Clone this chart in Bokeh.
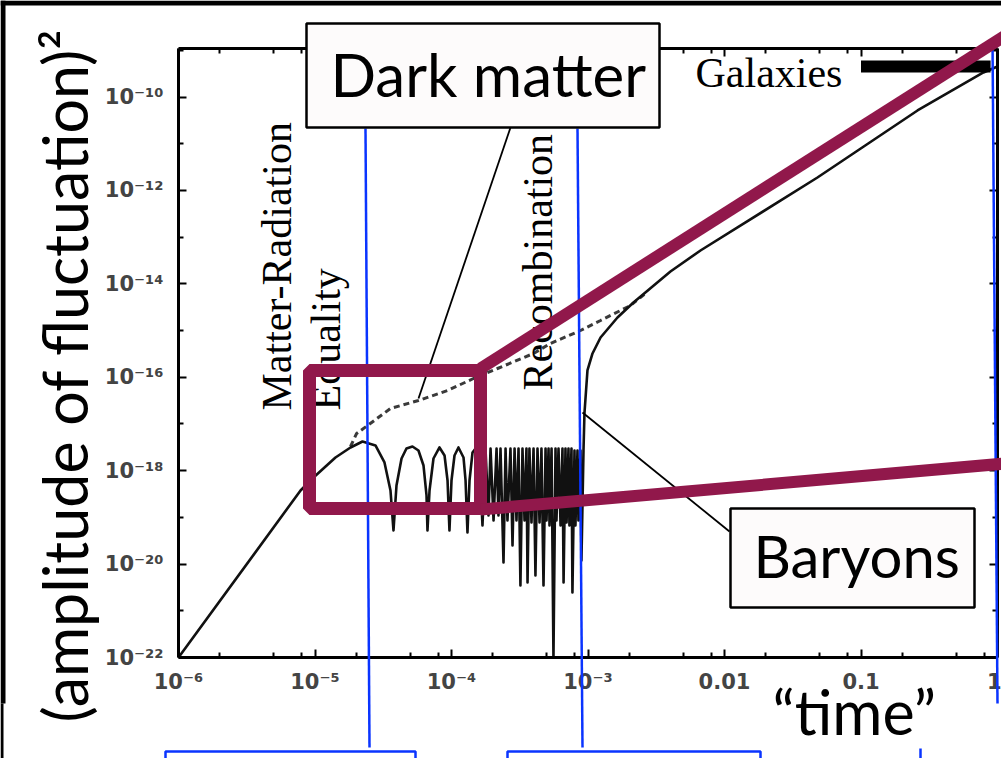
import math
from bokeh.plotting import figure
from bokeh.models import Range1d, FixedTicker, LogAxis, Label, Arrow, BoxAnnotation
from bokeh.embed import file_html
from bokeh.resources import INLINE

# ---------------- data (log10 of time, log10 of amplitude^2)
baryon_log_t = [
    -6.000, -5.106, -5.011, -4.850, -4.740, -4.652,
    -4.557, -4.491, -4.447, -4.425,
    -4.403, -4.366, -4.330, -4.286, -4.242, -4.205, -4.183, -4.176,
    -4.161, -4.132, -4.088, -4.051, -4.029, -4.015,
    -4.000, -3.978, -3.949, -3.912, -3.897, -3.883,
    -3.868, -3.846, -3.824, -3.795, -3.773,
    -3.751, -3.729, -3.714, -3.692, -3.670, -3.656, -3.641, -3.619,
    -3.604, -3.590, -3.568, -3.553, -3.538, -3.524, -3.509, -3.495,
    -3.480, -3.465, -3.451, -3.443, -3.429, -3.414, -3.399, -3.385,
    -3.370, -3.355, -3.341, -3.326, -3.311, -3.304, -3.289, -3.282,
    -3.267, -3.253, -3.238, -3.231, -3.216, -3.201, -3.187, -3.179,
    -3.165, -3.157, -3.143, -3.136, -3.121, -3.114, -3.099, -3.092,
    -3.077, -3.070, -3.055, -3.048, -3.033,
    -3.026, -3.004, -2.967, -2.908, -2.784, -2.667, -2.396, -2.176,
    -1.319, -0.586, -0.103, 0.000,
]
baryon_log_amp = [
    -22.000, -18.424, -18.146, -17.717, -17.503, -17.375,
    -17.460, -17.824, -18.424, -19.281,
    -18.317, -17.739, -17.525, -17.482, -17.567, -17.889, -18.531, -19.281,
    -18.424, -17.739, -17.503, -17.675, -18.210, -19.281,
    -18.210, -17.675, -17.503, -17.717, -18.210, -19.323,
    -18.210, -17.610, -17.525, -17.782, -19.173,
    -17.525, -18.959, -17.525, -19.066, -17.525, -18.959, -17.525, -19.966,
    -17.525, -19.066, -17.525, -19.602, -17.525, -19.066, -17.525, -20.458,
    -17.525, -19.066, -17.525, -20.394, -17.525, -19.109, -17.525, -20.244,
    -17.525, -19.109, -17.525, -20.458, -17.525, -19.066, -17.525, -19.173,
    -17.525, -22.000, -17.525, -19.066, -17.525, -19.173, -17.525, -20.394,
    -17.525, -19.109, -17.525, -19.173, -17.525, -20.608, -17.567, -19.173,
    -17.567, -19.066, -17.567, -19.923, -17.567,
    -16.775, -15.854, -15.490, -15.148, -14.720, -14.398, -13.735, -13.285,
    -11.722, -10.287, -9.473, -9.345,
]
dm_log_t = [-4.740, -4.695, -4.615, -4.447, -4.242, -4.029, -3.839, -3.663,
            -3.399, -3.275, -3.055, -2.908, -2.689, -2.579]
dm_log_amp = [-17.482, -17.203, -17.032, -16.668, -16.497, -16.283, -16.026, -15.812,
              -15.490, -15.276, -14.998, -14.784, -14.463, -14.206]
galaxies_t = [0.1, 0.89]
galaxies_amp = [4.5e-10, 4.5e-10]

x_ticks = [1e-6, 1e-5, 1e-4, 1e-3, 1e-2, 1e-1, 1.0]
x_tick_labels = ["10⁻⁶", "10⁻⁵", "10⁻⁴", "10⁻³", "0.01", "0.1", "1"]
x_minor_mult = [2, 5, 8]
y_ticks = [1e-22, 1e-20, 1e-18, 1e-16, 1e-14, 1e-12, 1e-10]
y_tick_labels = ["10⁻²²", "10⁻²⁰", "10⁻¹⁸", "10⁻¹⁶", "10⁻¹⁴", "10⁻¹²", "10⁻¹⁰"]
y_minor_ticks = [1e-21, 1e-19, 1e-17, 1e-15, 1e-13, 1e-11, 1e-9]

x_minor_ticks = [m * d for d in x_ticks[:-1] for m in x_minor_mult]

# ---------------- layout: frame = whole canvas, plot box placed with fixed-location axes
W, H = 1001, 758
BOX_L, BOX_R, BOX_T, BOX_B = 178, 997, 48, 657          # pixel edges of the plot box
LX0, LX1 = -6.0, 0.0                                     # log10 x extent of the box
LY0, LY1 = -22.0, -8.96                                  # log10 y extent of the box
ppx = (BOX_R - BOX_L) / (LX1 - LX0)
ppy = (BOX_B - BOX_T) / (LY1 - LY0)
x_range = Range1d(10 ** (LX0 - BOX_L / ppx), 10 ** (LX1 + (W - BOX_R) / ppx))
y_range = Range1d(10 ** (LY0 - (H - BOX_B) / ppy), 10 ** (LY1 + BOX_T / ppy))

p = figure(width=W, height=H, x_axis_type="log", y_axis_type="log",
           x_range=x_range, y_range=y_range,
           output_backend="svg", toolbar_location=None)
p.min_border = 0
p.min_border_left = 0
p.min_border_right = 0
p.min_border_top = 0
p.min_border_bottom = 0
p.background_fill_color = "white"
p.border_fill_color = "white"
p.outline_line_color = None
p.xgrid.grid_line_color = None
p.ygrid.grid_line_color = None

TICK_FONT = "DejaVu Sans"
x_bounds = (10 ** LX0, 10 ** LX1)
y_bounds = (10 ** LY0, 10 ** LY1)


def style_axis(ax, labels=True):
    ax.axis_line_color = "black"
    ax.axis_line_width = 3
    ax.major_tick_in = 8
    ax.major_tick_out = 0
    ax.minor_tick_in = 5
    ax.minor_tick_out = 0
    ax.major_tick_line_color = "black"
    ax.minor_tick_line_color = "black"
    ax.major_tick_line_width = 2
    ax.minor_tick_line_width = 2
    if labels:
        ax.major_label_text_font = TICK_FONT
        ax.major_label_text_font_style = "bold"
        ax.major_label_text_color = "#444444"
    else:
        ax.major_label_text_font_size = "1px"
        ax.major_label_text_alpha = 0.0
        ax.major_label_standoff = 0


xa = p.xaxis[0]
xa.ticker = FixedTicker(ticks=x_ticks, minor_ticks=x_minor_ticks)
xa.major_label_overrides = dict(zip(x_ticks, x_tick_labels))
style_axis(xa)
xa.major_label_text_font_size = "21px"
xa.major_label_standoff = 12
xa.fixed_location = 10 ** LY0
xa.bounds = x_bounds

ya = p.yaxis[0]
ya.ticker = FixedTicker(ticks=y_ticks, minor_ticks=y_minor_ticks)
ya.major_label_overrides = dict(zip(y_ticks, y_tick_labels))
style_axis(ya)
ya.major_label_text_font_size = "21px"
ya.major_label_standoff = 15
ya.fixed_location = 10 ** LX0
ya.bounds = y_bounds

top_ax = LogAxis(ticker=FixedTicker(ticks=x_ticks, minor_ticks=x_minor_ticks),
                 fixed_location=10 ** LY1, bounds=x_bounds)
style_axis(top_ax, labels=False)
p.add_layout(top_ax, "above")
right_ax = LogAxis(ticker=FixedTicker(ticks=y_ticks, minor_ticks=y_minor_ticks),
                   fixed_location=10 ** LX1, bounds=y_bounds)
style_axis(right_ax, labels=False)
p.add_layout(right_ax, "right")

# ---------------- curves
bt = [10 ** v for v in baryon_log_t]
ba = [10 ** v for v in baryon_log_amp]
dt = [10 ** v for v in dm_log_t]
da = [10 ** v for v in dm_log_amp]
p.line(dt, da, line_color="#3a3a3a", line_width=3, line_dash="6 4")
p.line(bt, ba, line_color="#111111", line_width=2.6, line_join="round")
p.line(galaxies_t, galaxies_amp, line_color="black", line_width=12)

# ---------------- slide annotations (canvas pixels)
BLUE = "#0a34ff"
MAROON = "#91184b"
BASE_SHIFT = 0.4   # bokeh places the alphabetic baseline ~0.4em low; compensate


def seg(x0, y0, x1, y1, color, width):
    p.add_layout(Arrow(start=None, end=None, x_start=x0, y_start=y0, x_end=x1, y_end=y1,
                       start_units="canvas", end_units="canvas",
                       line_color=color, line_width=width))


def label(x, y, text, font, size, vertical=False, color="black"):
    if vertical:
        x = x - BASE_SHIFT * size
    else:
        y = y - BASE_SHIFT * size
    p.add_layout(Label(x=x, y=y, x_units="canvas", y_units="canvas", text=text,
                       text_font=font, text_font_size=f"{size}px", text_color=color,
                       angle=math.pi / 2 if vertical else 0.0,
                       text_align="left", text_baseline="alphabetic"))


def box(l, r, t, b, fill, line, width):
    p.add_layout(BoxAnnotation(left=l, right=r, top=t, bottom=b,
                               left_units="canvas", right_units="canvas",
                               top_units="canvas", bottom_units="canvas",
                               fill_color=fill if fill else "white",
                               fill_alpha=1.0 if fill else 0.0,
                               line_color=line, line_width=width,
                               line_alpha=1.0 if line else 0.0))


# screenshot border strips
box(0, 1001, 0, 5, "black", None, 0)
box(0, 5, 0, 703, "black", None, 0)
box(0, 3, 703, 758, "black", None, 0)

# era labels (Times-like)
label(293, 410, "Matter-Radiation", "Liberation Serif", 42, vertical=True)
label(342, 410, "Equality", "Liberation Serif", 42, vertical=True)
label(554, 390, "Recombination", "Liberation Serif", 42, vertical=True)
label(695, 89, "Galaxies", "Liberation Serif", 42)

# blue verticals
seg(365, 128, 369, 747, BLUE, 2.5)
seg(577, 128, 582, 747, BLUE, 2.5)
seg(992, 40, 997, 703, BLUE, 2.5)
# blue boxes cut by the bottom edge
box(165, 415, 751, 770, None, BLUE, 2.5)
box(507, 760, 751, 770, None, BLUE, 2.5)
seg(920, 748, 920, 758, BLUE, 2.5)

# pointer lines
seg(510, 127, 418, 398, "black", 1.8)
seg(582, 412, 729, 531, "black", 1.8)

# maroon zoom box + projection lines
box(309, 480, 370, 508, None, MAROON, 13)
seg(480, 368, 1005, 35, MAROON, 12)
seg(480, 509, 1005, 463, MAROON, 12)

# text boxes
box(306, 659, 23, 127, "#fdfbfb", "black", 2.5)
label(330, 97, "Dark matter", "Lato", 60)
box(730, 974, 508, 607, "#fdfbfb", "black", 2.5)
label(753, 578, "Baryons", "Lato", 58)

# axis titles
label(772, 735, "\u201ctime\u201d", "Lato", 61)
label(88, 722, "(amplitude of fluctuation)\u00b2", "Lato", 61, vertical=True)

open("out.html", "w", encoding="utf-8").write(file_html(p, INLINE))
